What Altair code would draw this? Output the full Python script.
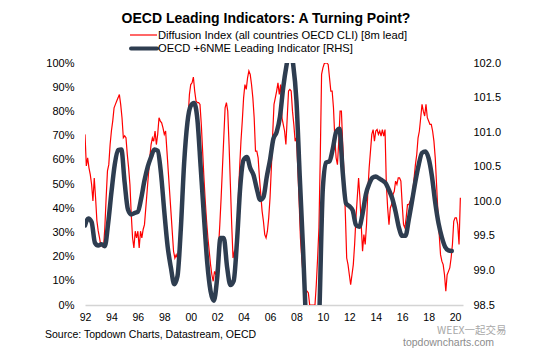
import altair as alt
import pandas as pd

FONT = "Liberation Sans"

# Diffusion Index (%), sampled every 0.1 year from 1992.0
red_start = 1992.0
red_step = 0.1
red_vals = [
    70.5, 57.5, 60.8, 56.7, 53.9, 49.8, 43, 52.5, 44.3, 34.8,
    30.6, 27.7, 24.4, 25, 23.6, 31.9, 44.3, 55.4, 58, 66.3,
    72, 76.1, 81.5, 82.9, 84.3, 85.6, 87, 82.9, 77.4, 69.1,
    69.9, 69.1, 62.2, 56.7, 49.8, 37.4, 27.7, 23.6, 30.5, 27.7,
    30.5, 23.6, 30.5, 27.7, 31.2, 33.2, 40.1, 47, 53.9, 60.8,
    66.3, 69.1, 67.7, 71.9, 66.3, 70.5, 77.4, 76, 75.3, 73.2,
    70.5, 71.9, 63.6, 55.3, 47, 38.8, 30.5, 22.2, 19.4, 20.8,
    19.4,
    23.6, 25, 30.5, 41.5, 52.5, 63.6, 73.2, 77.4, 87, 91.1,
    91.8, 94.2, 88.4, 84.3, 83.6, 83.6, 82.9, 74.6, 63.6, 52.5,
    42.9, 34.6, 27.7, 22.2, 16.7, 12.5, 9.8, 13.9, 12.5, 16.7,
    23.6, 33.2, 44.3, 56.7, 69.1, 81.5, 83.6, 80.1, 66.3, 49.8,
    33.2, 19.4, 22.2, 20.8, 30.5, 44.3, 56.7, 67.7, 76, 85.6,
    91.1, 89.1, 93.9, 96.7, 95.3, 91.1, 85.6, 77.4, 63.6, 63.6,
    60.8, 52.5, 45.6, 38.8, 34.6, 29.1, 27.7, 30.5, 36, 44.3,
    56.7, 70.5, 82.9,
    85.6, 88.4,
    91.8, 87, 91.1, 77.4, 74.6, 71.9, 66.3, 77.4, 88.4, 89.1,
    88.4, 80.1, 74.6, 67.7, 69.1, 56.7, 42.9, 27.7, 19.4, 12.5,
    7, 5.7, 5.7, 5, 0, 0, 0, 0, 0, 8.4,
    19.4, 31.9, 60.8, 95.3, 98, 99.7, 100, 100, 99.4, 93.9,
    88.4, 88.4, 81.5, 69.1, 60.8, 58, 67.7, 80.1, 80.1, 66.3,
    53.9, 37.4, 19.4, 16.7, 12.5, 8.4, 12.5, 16.7, 25, 36,
    44.3, 52.5, 44.3, 33.2, 22.2, 29.1,
    25, 33.2, 47, 56.7, 63.6, 70.5, 72.5, 67.7, 71.9, 72.5,
    70.5, 71.9, 69.8, 72.5, 69.8, 72.5, 49.8, 40.1, 33.2, 40.1,
    41.5, 45.6, 47, 51.2, 49.8, 52.5, 52.5, 51.2, 41.5, 33.2,
    31.9, 36, 41.5, 41.5, 42.9, 44.3, 47, 52.5, 58, 62.2,
    69.1, 71.9, 77.4, 82.9, 80.1, 78.1, 82.9, 77.4, 76, 74.6,
    74.6, 71.9, 67.7, 60.8, 49.8, 38.8, 29.1, 20.8, 18.1, 16.7,
    12.5, 5.7, 12.5, 13.9, 15.3, 19.4, 25, 34.6, 36, 36,
    33.2, 25, 44.3,
]

# OECD +6NME Leading Indicator (RHS), quarterly from 1992.0
navy_start = 1992.0
navy_step = 0.25
navy_vals = [
    99.65, 99.75, 99.70, 99.40, 99.36, 99.38, 99.35, 99.68, 100.13, 100.53,
    100.74, 100.75, 100.27, 99.88, 99.81, 99.83, 99.85, 100.04, 100.30, 100.50,
    100.64, 100.75, 100.73, 100.40, 99.85, 99.35, 99.04, 98.80, 98.92, 99.6,
    100.55, 101.14, 101.38, 101.42, 101.19, 100.50, 99.78, 99.11, 98.70, 98.56,
    98.89, 99.47, 99.47, 99.05, 98.79, 98.85, 99.42, 100.22, 100.60, 100.64,
    100.48, 100.38, 100.18, 100.02, 100.06, 100.35, 100.6, 100.90, 101.0, 101.22,
    101.65, 101.97, 102.2, 101.98, 101.45, 100.35, 99.30, 98.1, 97.0, 96.6,
    97.0, 98.5, 100.2, 100.56, 100.58, 100.76, 101.0, 101.05, 100.42, 99.97,
    99.93, 99.87, 99.66, 99.63, 99.82, 100.1, 100.25, 100.34, 100.36, 100.33,
    100.30, 100.26, 100.16, 100.04, 99.85, 99.62, 99.50, 99.50, 99.74, 100.01,
    100.29, 100.53, 100.70, 100.72, 100.62, 100.36, 99.98, 99.68, 99.48, 99.34,
    99.29, 99.28,
]

x_ticks = list(range(1992, 2021, 2))
left_ticks = list(range(0, 101, 10))
right_ticks = [98.5, 99.0, 99.5, 100.0, 100.5, 101.0, 101.5, 102.0]

title_text = "OECD Leading Indicators: A Turning Point?"
legend_red = "Diffusion Index (all countries OECD CLI) [8m lead]"
legend_navy = "OECD +6NME Leading Indicator [RHS]"
source_text = "Source: Topdown Charts, Datastream, OECD"
site_text = "topdowncharts.com"
wm_text = "WEEX一起交易"

RED = "#ff0000"
NAVY = "#2e3d50"

red_df = pd.DataFrame({
    "t": [red_start + red_step * i for i in range(len(red_vals))],
    "v": red_vals,
})
navy_df = pd.DataFrame({
    "t": [navy_start + navy_step * i for i in range(len(navy_vals))],
    "v": navy_vals,
})

x_scale = alt.Scale(domain=[1992, 2020.6], nice=False, zero=False)
x_axis = alt.Axis(
    values=x_ticks, format="d", labelExpr="substring(datum.label, 2)",
    title=None, grid=False, ticks=False, domainColor="#d4d4d4", domainWidth=1.5,
    labelPadding=7, labelFontSize=10.5, labelFont=FONT, labelColor="#000000",
    labelFlush=False, labelOverlap=False,
)

red = alt.Chart(red_df).mark_line(color=RED, strokeWidth=1.2, clip=True).encode(
    x=alt.X("t:Q", scale=x_scale, axis=x_axis),
    y=alt.Y(
        "v:Q",
        scale=alt.Scale(domain=[0, 100], nice=False, zero=False),
        axis=alt.Axis(
            values=left_ticks, labelExpr="datum.value + '%'", title=None,
            grid=False, ticks=False, domain=False, labelPadding=11,
            labelFontSize=11, labelFont=FONT, labelColor="#000000",
        ),
    ),
)

navy = alt.Chart(navy_df).mark_line(
    color=NAVY, strokeWidth=4.5, clip=True, interpolate="monotone",
    strokeCap="round", strokeJoin="round",
).encode(
    x=alt.X("t:Q", scale=x_scale, axis=x_axis),
    y=alt.Y(
        "v:Q",
        scale=alt.Scale(domain=[98.5, 102.0], nice=False, zero=False),
        axis=alt.Axis(
            orient="right", values=right_ticks, format=".1f", title=None,
            grid=False, ticks=False, domain=False, labelPadding=10,
            labelFontSize=11, labelFont=FONT, labelColor="#000000",
        ),
    ),
)

one = alt.Data(values=[{}])


def txt(text, x, y, size, color="#000000", weight="normal", align="left",
        baseline="middle", font=FONT):
    return alt.Chart(one).mark_text(
        text=text, fontSize=size, font=font, color=color, fontWeight=weight,
        align=align, baseline=baseline,
    ).encode(x=alt.value(x), y=alt.value(y))


title = txt(title_text, 181, -40, 14, weight="bold", align="center",
            baseline="alphabetic")
leg_red_line = alt.Chart(one).mark_rule(color=RED, strokeWidth=1.2).encode(
    x=alt.value(45), x2=alt.value(72), y=alt.value(-28))
leg_navy_line = alt.Chart(one).mark_rule(color=NAVY, strokeWidth=4, strokeCap="round").encode(
    x=alt.value(46), x2=alt.value(72), y=alt.value(-14.5))
leg_red_txt = txt(legend_red, 73, -27.5, 11.2)
leg_navy_txt = txt(legend_navy, 73, -14.5, 11.2)
source = txt(source_text, -40, 272, 10.5)
site = txt(site_text, 318, 280, 10.5, color="#8c8c8c")
wm = txt(wm_text, 352, 267.5, 10.5, color="#a8a8a8", font="Noto Sans CJK SC")

chart = alt.layer(
    red, navy, title, leg_red_line, leg_navy_line, leg_red_txt, leg_navy_txt,
    source, site, wm,
).resolve_scale(y="independent").properties(
    width=378, height=242,
    autosize=alt.AutoSizeParams(type="none"),
    padding={"left": 85, "top": 63, "right": 71, "bottom": 48},
    background="white",
).configure_view(stroke=None)

chart.save("out.html", embed_options={"renderer": "svg", "actions": False})
